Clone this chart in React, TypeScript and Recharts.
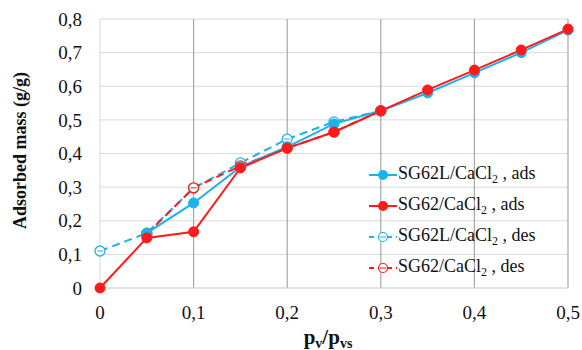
import React from "react";
import {
  LineChart,
  Line,
  XAxis,
  YAxis,
  CartesianGrid,
  ReferenceLine,
} from "recharts";

// relative pressure p_v/p_vs
const pressures = [0, 0.05, 0.1, 0.15, 0.2, 0.25, 0.3, 0.35, 0.4, 0.45, 0.5];

// adsorbed mass (g/g)
const sg62lAds = [null, 0.163, 0.253, 0.36, 0.42, 0.488, 0.527, 0.58, 0.64, 0.7, 0.767];
const sg62Ads = [0, 0.149, 0.167, 0.357, 0.416, 0.464, 0.527, 0.589, 0.648, 0.708, 0.77];
const sg62lDes = [0.11, 0.163, 0.297, 0.372, 0.443, 0.494, 0.527, null, null, null, null];
const sg62Des = [null, 0.16, 0.298, 0.363, 0.416, 0.464, 0.527, null, null, null, null];

const xTicks = [0, 0.1, 0.2, 0.3, 0.4, 0.5];
const yTicks = [0, 0.1, 0.2, 0.3, 0.4, 0.5, 0.6, 0.7, 0.8];
const vLines = [0.1, 0.2, 0.3, 0.4, 0.5];

const BLUE = "#1fb1ea";
const RED = "#ff1a1a";
const FONT = "'Liberation Serif', 'DejaVu Serif', serif";

const data = pressures.map((p, i) => ({
  p,
  lAds: sg62lAds[i],
  ads: sg62Ads[i],
  lDes: sg62lDes[i],
  des: sg62Des[i],
}));

const comma = (v: number) => String(v).replace(".", ",");

const OpenDot = (color: string) => (props: any) => {
  const { cx, cy, value, index } = props;
  if (value == null || cx == null || cy == null) return <g key={`${color}-${index}`} />;
  return (
    <g key={`${color}-${index}`}>
      <circle cx={cx} cy={cy} r={5} fill="#fff" stroke={color} strokeWidth={1.3} />
      <line x1={cx - 3} x2={cx + 3} y1={cy} y2={cy} stroke={color} strokeWidth={1} />
    </g>
  );
};

const series = [
  { name: "SG62L", tail: "ads", color: BLUE, dashed: false },
  { name: "SG62", tail: "ads", color: RED, dashed: false },
  { name: "SG62L", tail: "des", color: BLUE, dashed: true },
  { name: "SG62", tail: "des", color: RED, dashed: true },
];

const LegendBox = () => (
  <div
    style={{
      position: "absolute",
      left: 369,
      top: 159,
      fontFamily: FONT,
      fontSize: 18,
      color: "#111",
    }}
  >
    {series.map((s, i) => (
      <div key={i} style={{ display: "flex", alignItems: "center", height: 31 }}>
        <svg width={28} height={14} style={{ marginRight: 1 }}>
          <line
            x1={0}
            x2={28}
            y1={7}
            y2={7}
            stroke={s.color}
            strokeWidth={2}
            strokeDasharray={s.dashed ? "5 4" : undefined}
          />
          {s.dashed ? (
            <g>
              <circle cx={14} cy={7} r={4.5} fill="#fff" stroke={s.color} strokeWidth={1.2} />
              <line x1={11} x2={17} y1={7} y2={7} stroke={s.color} strokeWidth={1} />
            </g>
          ) : (
            <circle cx={14} cy={7} r={5} fill={s.color} />
          )}
        </svg>
        <span style={{ whiteSpace: "nowrap" }}>
          {s.name}/CaCl<sub style={{ fontSize: 12, verticalAlign: -4 }}>2</sub> , {s.tail}
        </span>
      </div>
    ))}
  </div>
);

const XLabel = (props: any) => {
  const { viewBox } = props;
  const cx = viewBox.x + viewBox.width / 2 - 6;
  return (
    <text x={cx} y={344} textAnchor="middle" fontFamily={FONT} fontSize={21} fontWeight="bold" fill="#111">
      p<tspan fontSize={14} dy={4}>v</tspan>
      <tspan dy={-4}>/p</tspan>
      <tspan fontSize={14} dy={4}>vs</tspan>
    </text>
  );
};

const YLabel = (props: any) => {
  const { viewBox } = props;
  const cy = viewBox.y + viewBox.height / 2 - 3;
  return (
    <text
      x={26}
      y={cy}
      transform={`rotate(-90 26 ${cy})`}
      textAnchor="middle"
      fontFamily={FONT}
      fontSize={18}
      fontWeight="bold"
      fill="#111"
    >
      Adsorbed mass (g/g)
    </text>
  );
};

export default function App() {
  return (
    <div style={{ position: "absolute", left: 0, top: 0, width: 582, height: 350, background: "#fff" }}>
      <LineChart width={582} height={350} data={data} margin={{ top: 19, right: 14, bottom: 0, left: 20 }}>
        <CartesianGrid stroke="#d9d9d9" vertical={false} />
        <ReferenceLine x={0} stroke="#d9d9d9" />
        {vLines.map((v) => (
          <ReferenceLine key={v} x={v} stroke="#a6a6a6" strokeWidth={1.2} />
        ))}
        <XAxis
          dataKey="p"
          type="number"
          domain={[0, 0.5]}
          ticks={xTicks}
          interval={0}
          tickFormatter={comma}
          tickLine={false}
          axisLine={{ stroke: "#d9d9d9" }}
          tick={{ fontFamily: FONT, fontSize: 19, fill: "#111" }}
          tickMargin={12}
          height={62}
          label={<XLabel />}
        />
        <YAxis
          type="number"
          domain={[0, 0.8]}
          ticks={yTicks}
          interval={0}
          tickFormatter={comma}
          tickLine={false}
          axisLine={false}
          tick={{ fontFamily: FONT, fontSize: 19, fill: "#111" }}
          tickMargin={12}
          width={80}
          label={<YLabel />}
        />
        <Line
          dataKey="lDes"
          stroke={BLUE}
          strokeWidth={2}
          strokeDasharray="8 5"
          dot={OpenDot(BLUE)}
          isAnimationActive={false}
        />
        <Line
          dataKey="des"
          stroke={RED}
          strokeWidth={2}
          strokeDasharray="8 5"
          dot={OpenDot(RED)}
          isAnimationActive={false}
        />
        <Line
          dataKey="lAds"
          stroke={BLUE}
          strokeWidth={2}
          dot={{ r: 5, fill: BLUE, stroke: BLUE, strokeWidth: 1 }}
          isAnimationActive={false}
        />
        <Line
          dataKey="ads"
          stroke={RED}
          strokeWidth={2}
          dot={{ r: 5, fill: RED, stroke: RED, strokeWidth: 1 }}
          isAnimationActive={false}
        />
      </LineChart>
      <LegendBox />
    </div>
  );
}
